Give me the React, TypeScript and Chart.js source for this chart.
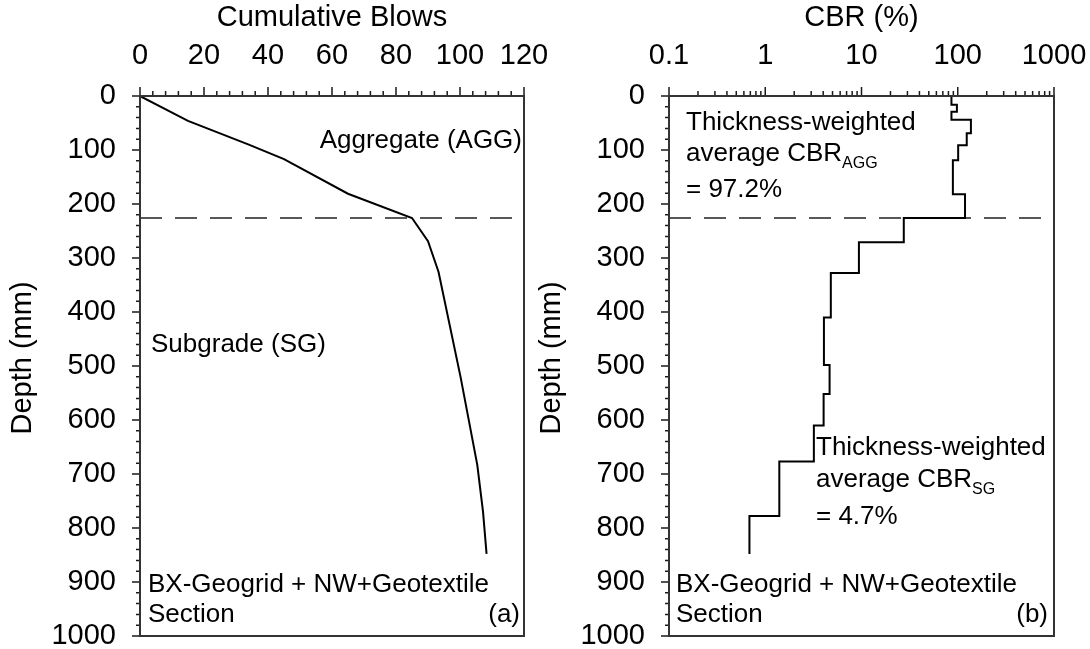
import React, { useEffect, useRef } from 'react';
import { Chart, registerables } from 'chart.js';

Chart.register(...registerables);

// ---------------- data ----------------
const BLOWS = [0, 15, 34, 45, 65, 85, 90, 93.3, 100.2, 105.4, 107.2, 108.3];
const BLOW_DEPTHS = [0, 46, 90, 117, 181, 226, 269, 326, 521, 683, 770, 848];

const LAYER_TOPS = [0, 16, 29, 44, 69, 91, 119, 182, 226, 271, 328, 410, 498, 552, 610, 677, 778];
const LAYER_CBR = [86, 98, 86, 137, 124, 101, 89, 119, 27.5, 9.4, 4.8, 4.07, 4.66, 4.04, 3.2, 1.4, 0.685];
const PROFILE_BOTTOM = 848;

const AGG_SG_BOUNDARY = 226;

const BLOW_TICKS = [0, 20, 40, 60, 80, 100, 120];
const CBR_TICKS = [0.1, 1, 10, 100, 1000];
const DEPTH_TICKS = [0, 100, 200, 300, 400, 500, 600, 700, 800, 900, 1000];

// minor tick positions (axis decoration)
const BLOW_MINOR: number[] = [];
for (let v = 0; v <= 120; v += 4) if (v % 20 !== 0) BLOW_MINOR.push(v);
const DEPTH_MINOR: number[] = [];
for (let v = 0; v <= 1000; v += 20) if (v % 100 !== 0) DEPTH_MINOR.push(v);
const CBR_MINOR: number[] = [];
[0.1, 1, 10, 100].forEach((d) => {
  for (let k = 2; k <= 9; k++) CBR_MINOR.push(+(d * k).toPrecision(3));
});

// ---------------- styling ----------------
const FAMILY = '"Liberation Sans", Arial, Helvetica, sans-serif';
const AXIS_FONT = { family: FAMILY, size: 29 };
Chart.defaults.font.family = FAMILY;

type Note = { text: string; sub?: string; x: number; y: number; align?: CanvasTextAlign };

function framePlugin(minorX: number[], minorY: number[], notes: Note[], yTitle: { text: string; x: number; y: number }) {
  return {
    id: 'frameAndNotes',
    afterDraw(chart: any) {
      const { ctx, chartArea } = chart;
      const { left, top, right, bottom } = chartArea;
      const xs = chart.scales.x;
      const ys = chart.scales.y;
      ctx.save();
      ctx.strokeStyle = '#1a1a1a';
      ctx.lineWidth = 1.5;
      ctx.beginPath();
      for (const t of xs.ticks) {
        const p = xs.getPixelForValue(t.value);
        ctx.moveTo(p, top);
        ctx.lineTo(p, top - 9);
      }
      for (const v of minorX) {
        const p = xs.getPixelForValue(v);
        ctx.moveTo(p, top);
        ctx.lineTo(p, top - 5);
      }
      for (const t of ys.ticks) {
        const p = ys.getPixelForValue(t.value);
        ctx.moveTo(left, p);
        ctx.lineTo(left - 8, p);
      }
      for (const v of minorY) {
        const p = ys.getPixelForValue(v);
        ctx.moveTo(left, p);
        ctx.lineTo(left - 4, p);
      }
      ctx.stroke();
      ctx.lineWidth = 2;
      ctx.strokeStyle = '#333';
      ctx.strokeRect(left, top, right - left, bottom - top);

      ctx.fillStyle = '#000';
      ctx.textBaseline = 'alphabetic';
      for (const n of notes) {
        ctx.font = `26px ${FAMILY}`;
        ctx.textAlign = n.align ?? 'left';
        ctx.fillText(n.text, n.x, n.y);
        if (n.sub) {
          const w = ctx.measureText(n.text).width;
          ctx.font = `16px ${FAMILY}`;
          ctx.textAlign = 'left';
          ctx.fillText(n.sub, n.x + w, n.y + 7);
        }
      }

      // vertical axis title
      ctx.translate(yTitle.x, yTitle.y);
      ctx.rotate(-Math.PI / 2);
      ctx.font = `29px ${FAMILY}`;
      ctx.textAlign = 'center';
      ctx.textBaseline = 'middle';
      ctx.fillText(yTitle.text, 0, 0);
      ctx.restore();
    },
  };
}

function yAxis(width: number) {
  return {
    type: 'linear' as const,
    reverse: true,
    min: 0,
    max: 1000,
    afterBuildTicks: (s: any) => {
      s.ticks = DEPTH_TICKS.map((v) => ({ value: v }));
    },
    afterFit: (s: any) => {
      s.width = width;
      s.paddingTop = 0;
      s.paddingBottom = 0;
    },
    grid: { display: false, drawTicks: false },
    border: { display: false },
    ticks: { color: '#000', font: AXIS_FONT, padding: 24, autoSkip: false, callback: (v: any) => String(v) },
    title: { display: false },
  };
}

function topAxisCommon(ticks: number[], title: string) {
  return {
    position: 'top' as const,
    afterBuildTicks: (s: any) => {
      s.ticks = ticks.map((v) => ({ value: v }));
    },
    afterFit: (s: any) => {
      s.height = 96;
      s.paddingLeft = 0;
      s.paddingRight = 0;
    },
    grid: { display: false, drawTicks: false },
    border: { display: false },
    ticks: {
      color: '#000',
      font: AXIS_FONT,
      padding: 23,
      autoSkip: false,
      maxRotation: 0,
      callback: (v: any) => String(v),
    },
    title: { display: true, text: title, color: '#000', font: AXIS_FONT, padding: { top: 1, bottom: 0 } },
  };
}

function buildBlows(canvas: HTMLCanvasElement) {
  const notes: Note[] = [
    { text: 'Aggregate (AGG)', x: 522, y: 148, align: 'right' },
    { text: 'Subgrade (SG)', x: 151, y: 352 },
    { text: 'BX-Geogrid + NW+Geotextile', x: 148, y: 592 },
    { text: 'Section', x: 148, y: 622 },
    { text: '(a)', x: 520, y: 622, align: 'right' },
  ];
  return new Chart(canvas, {
    type: 'line',
    data: {
      datasets: [
        {
          data: BLOWS.map((b, i) => ({ x: b, y: BLOW_DEPTHS[i] })),
          borderColor: '#000',
          borderWidth: 2,
          pointRadius: 0,
          tension: 0,
        },
        {
          data: [
            { x: BLOW_TICKS[0], y: AGG_SG_BOUNDARY },
            { x: BLOW_TICKS[BLOW_TICKS.length - 1], y: AGG_SG_BOUNDARY },
          ],
          borderColor: '#222',
          borderWidth: 1.5,
          borderDash: [22, 13],
          pointRadius: 0,
        },
      ],
    },
    options: {
      animation: false,
      responsive: false,
      devicePixelRatio: 1,
      layout: { padding: { left: 0, right: 36, top: 0, bottom: 13 } },
      plugins: { legend: { display: false }, tooltip: { enabled: false } },
      scales: {
        x: { type: 'linear', min: 0, max: 120, ...topAxisCommon(BLOW_TICKS, 'Cumulative Blows') },
        y: yAxis(140),
      },
    } as any,
    plugins: [framePlugin(BLOW_MINOR, DEPTH_MINOR, notes, { text: 'Depth (mm)', x: 23, y: 358 })],
  });
}

function buildCbr(canvas: HTMLCanvasElement) {
  const notes: Note[] = [
    { text: 'Thickness-weighted', x: 156, y: 130 },
    { text: 'average CBR', sub: 'AGG', x: 156, y: 161 },
    { text: '= 97.2%', x: 156, y: 197 },
    { text: 'Thickness-weighted', x: 286, y: 455 },
    { text: 'average CBR', sub: 'SG', x: 286, y: 487 },
    { text: '= 4.7%', x: 286, y: 524 },
    { text: 'BX-Geogrid + NW+Geotextile', x: 146, y: 592 },
    { text: 'Section', x: 146, y: 622 },
    { text: '(b)', x: 518, y: 622, align: 'right' },
  ];
  const profile = LAYER_TOPS.map((t, i) => ({ x: LAYER_CBR[i], y: t }));
  profile.push({ x: LAYER_CBR[LAYER_CBR.length - 1], y: PROFILE_BOTTOM });
  return new Chart(canvas, {
    type: 'line',
    data: {
      datasets: [
        {
          data: profile,
          borderColor: '#000',
          borderWidth: 2,
          pointRadius: 0,
          stepped: 'after',
          borderJoinStyle: 'miter',
        },
        {
          data: [
            { x: CBR_TICKS[0], y: AGG_SG_BOUNDARY },
            { x: CBR_TICKS[CBR_TICKS.length - 1], y: AGG_SG_BOUNDARY },
          ],
          borderColor: '#222',
          borderWidth: 1.5,
          borderDash: [22, 13],
          pointRadius: 0,
        },
      ],
    },
    options: {
      animation: false,
      responsive: false,
      devicePixelRatio: 1,
      layout: { padding: { left: 0, right: 36, top: 0, bottom: 13 } },
      plugins: { legend: { display: false }, tooltip: { enabled: false } },
      scales: {
        x: { type: 'logarithmic', min: 0.1, max: 1000, ...topAxisCommon(CBR_TICKS, 'CBR (%)') },
        y: yAxis(139),
      },
    } as any,
    plugins: [framePlugin(CBR_MINOR, DEPTH_MINOR, notes, { text: 'Depth (mm)', x: 22, y: 358 })],
  });
}

function ChartCanvas({ build, left, width }: { build: (c: HTMLCanvasElement) => Chart; left: number; width: number }) {
  const ref = useRef<HTMLCanvasElement>(null);
  useEffect(() => {
    const chart = build(ref.current as HTMLCanvasElement);
    return () => chart.destroy();
  }, [build]);
  return (
    <canvas
      ref={ref}
      width={width}
      height={649}
      style={{ position: 'absolute', left, top: 0, width, height: 649, display: 'block' }}
    />
  );
}

export default function App() {
  return (
    <div style={{ position: 'absolute', left: 0, top: 0, width: 1090, height: 649, background: '#fff', overflow: 'hidden' }}>
      <ChartCanvas build={buildBlows} left={0} width={560} />
      <ChartCanvas build={buildCbr} left={530} width={560} />
    </div>
  );
}
